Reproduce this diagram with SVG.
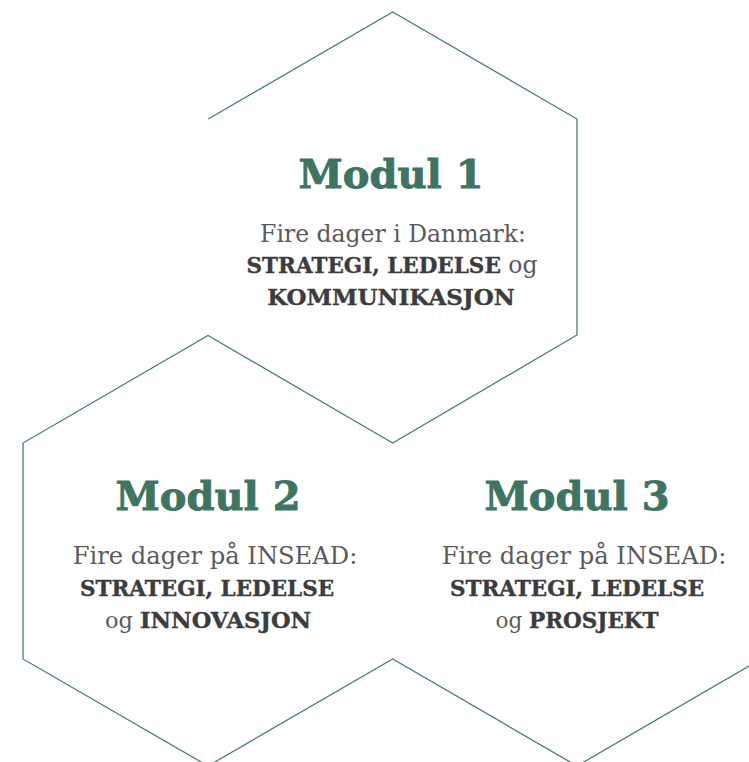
<svg xmlns="http://www.w3.org/2000/svg" width="749" height="762" viewBox="0 0 749 762">
<style>
.edge{fill:none;stroke:#4b7d6c;stroke-width:1.3;stroke-linejoin:miter}
.title{font-family:"DejaVu Serif","Liberation Serif",serif;font-weight:bold;font-size:40px;fill:#3d7562;stroke:#3d7562;stroke-width:0.9;text-anchor:middle}
.body{font-family:"DejaVu Serif","Liberation Serif",serif;font-size:23.5px;fill:#5a5a5a;text-anchor:middle}
.b{font-weight:bold;fill:#3c3c3c;stroke:#3c3c3c;stroke-width:0.4}
.s1{font-size:21.5px}
.w{font-size:24.2px}
</style>
<rect width="749" height="762" fill="#ffffff"/>
<g id="connectors">
<polyline class="edge" points="208.3,119 392.7,12 577,119 577,335 392.7,443 208,335.5 23,443 23,659 208,766"/>
<polyline class="edge" points="208,766 392.7,659 577,766 761,659"/>
</g>
<g id="modul1">
<text class="title" x="391" y="188">Modul 1</text>
<text class="body" x="393" y="242">Fire dager i Danmark:</text>
<text class="body" x="392" y="273"><tspan class="b s1">STRATEGI, LEDELSE</tspan> og</text>
<text class="body b" x="391" y="305" style="font-size:23px">KOMMUNIKASJON</text>
</g>
<g id="modul2">
<text class="title" x="208" y="510">Modul 2</text>
<text class="body w" x="215" y="564">Fire dager på INSEAD:</text>
<text class="body b s1" x="207" y="596">STRATEGI, LEDELSE</text>
<text class="body" x="208" y="628" style="font-size:22.5px">og <tspan class="b">INNOVASJON</tspan></text>
</g>
<g id="modul3">
<text class="title" x="577" y="510">Modul 3</text>
<text class="body w" x="584" y="564">Fire dager på INSEAD:</text>
<text class="body b s1" x="577" y="596">STRATEGI, LEDELSE</text>
<text class="body" x="577" y="628" style="font-size:21.5px">og <tspan class="b">PROSJEKT</tspan></text>
</g>
</svg>
